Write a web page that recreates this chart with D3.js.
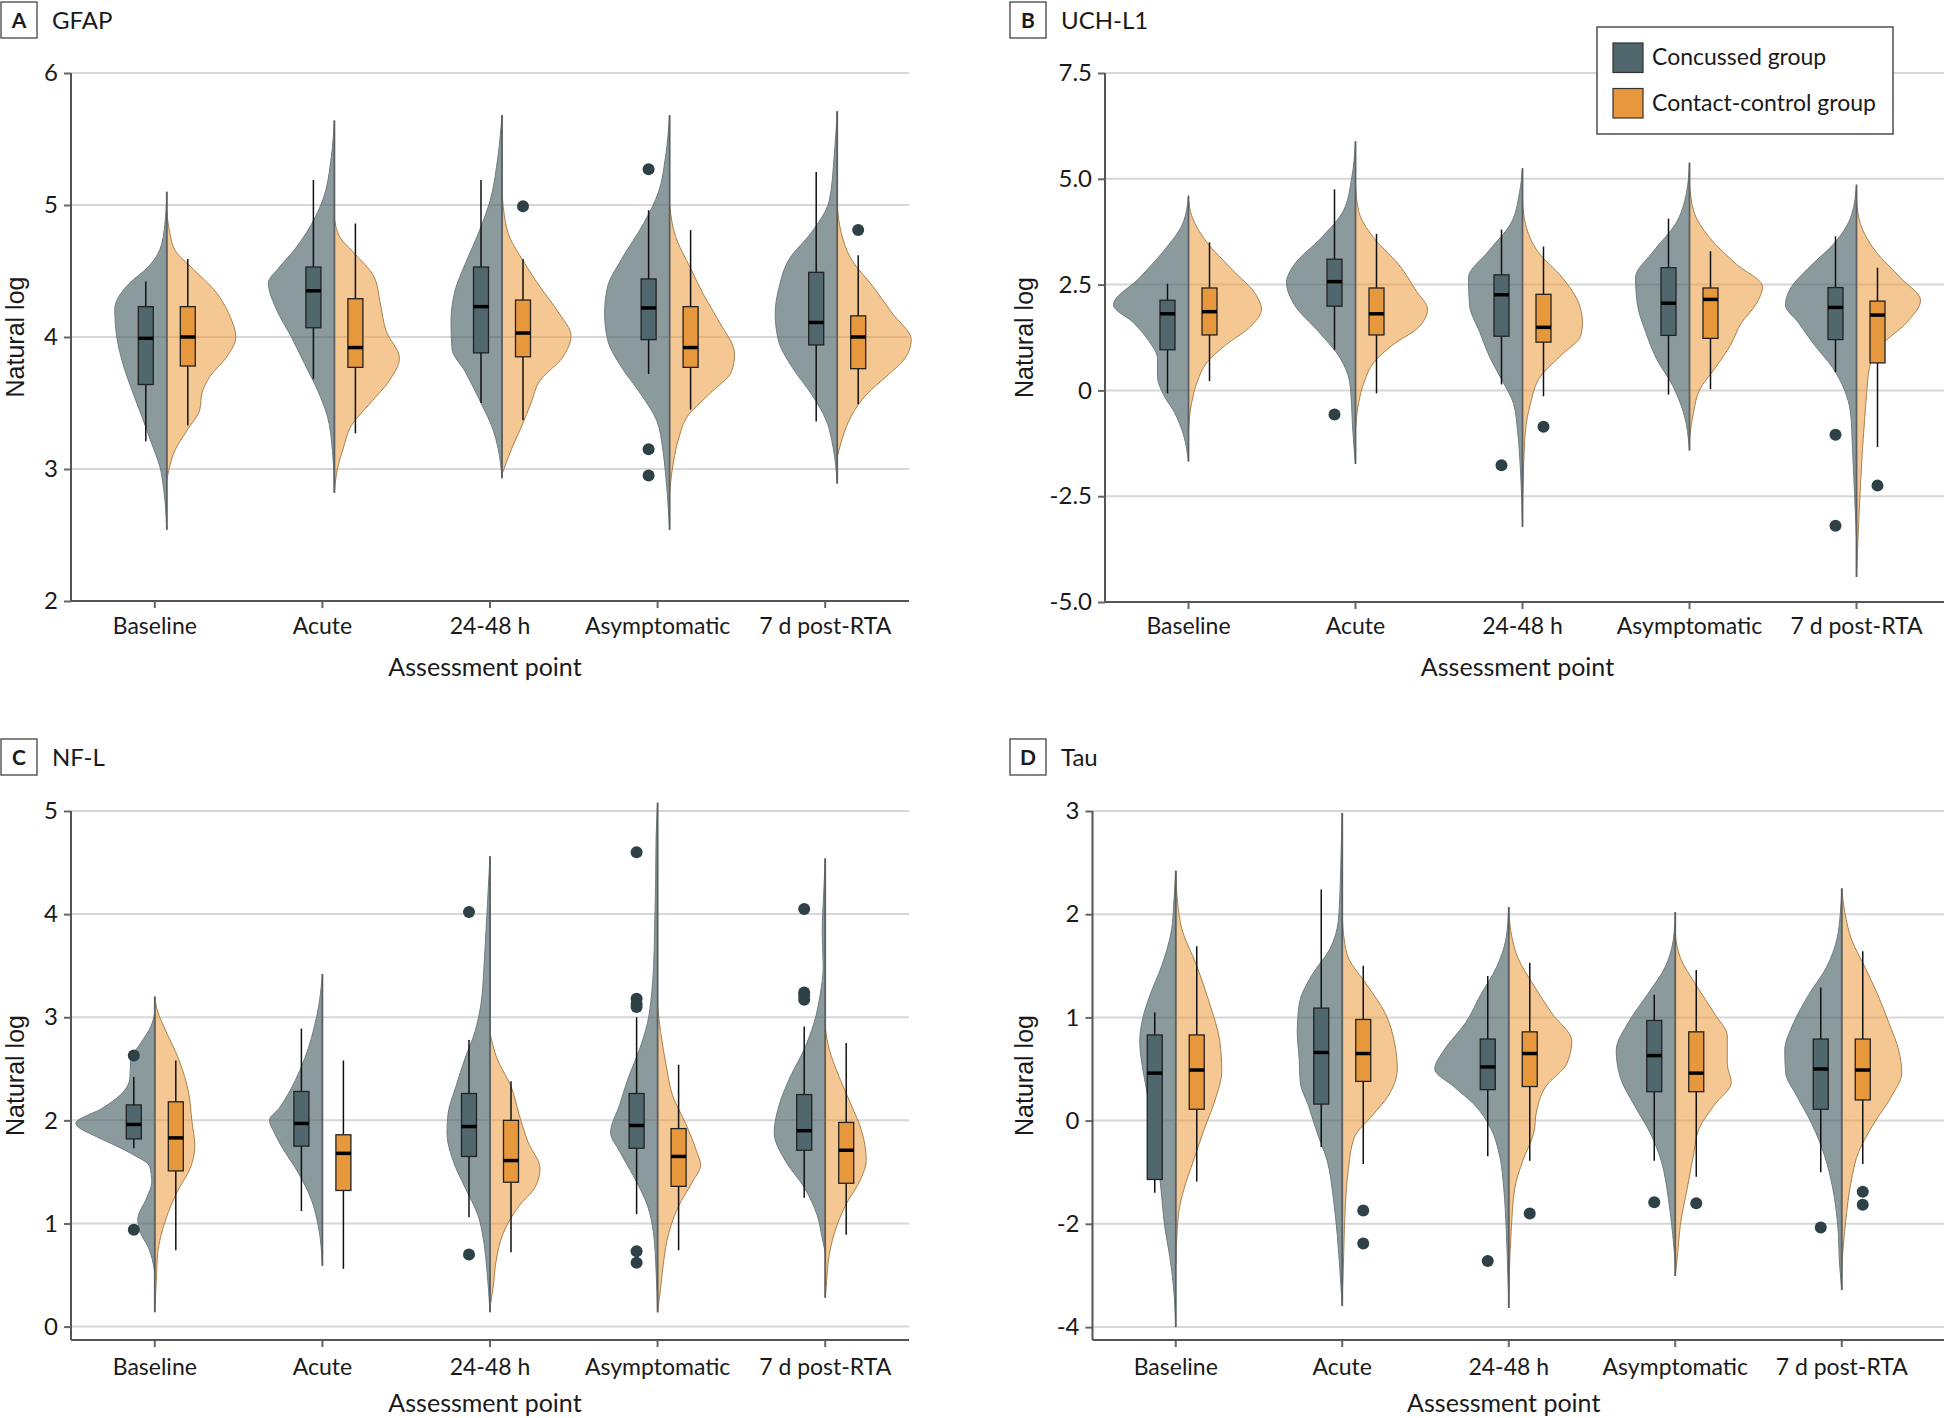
<!DOCTYPE html>
<html>
<head>
<meta charset="utf-8">
<script src="https://cdn.jsdelivr.net/npm/d3@7"></script>
<style>
  body { margin: 0; background: #fff; }
  text { font-family: Lato, "Open Sans", sans-serif; fill: #1a1a1a; }
</style>
</head>
<body>
<script>
var categories = ["Baseline", "Acute", "24-48 h", "Asymptomatic", "7 d post-RTA"];

// box stats per assessment point: [lower whisker, q1, median, q3, upper whisker]
// violin profiles: [value, relative density]
// GFAP
var gfapTicks = [2, 3, 4, 5, 6];
var gfapConcBox = [[3.21, 3.64, 3.99, 4.23, 4.42], [3.68, 4.07, 4.35, 4.53, 5.19], [3.50, 3.88, 4.23, 4.53, 5.19], [3.72, 3.98, 4.22, 4.44, 4.96], [3.36, 3.94, 4.11, 4.49, 5.25]];
var gfapCtrlBox = [[3.33, 3.78, 4.00, 4.23, 4.59], [3.27, 3.77, 3.92, 4.29, 4.86], [3.37, 3.85, 4.03, 4.28, 4.59], [3.45, 3.77, 3.92, 4.23, 4.81], [3.49, 3.76, 4.00, 4.16, 4.62]];
var gfapConcOut = [[], [], [], [5.27, 3.15, 2.95], []];
var gfapCtrlOut = [[], [], [4.99], [], [4.81]];
var gfapConcViolin = [
  [[5.10,0],[4.85,2],[4.66,7],[4.52,20],[4.41,37],[4.21,52],[4.0,50],[3.80,44],[3.60,35],[3.40,25],[3.19,15],[3.02,7],[2.84,3],[2.54,0]],
  [[5.64,0],[5.37,3],[5.03,12],[4.79,28],[4.66,40],[4.52,56],[4.41,66],[4.21,58],[4.0,43],[3.80,30],[3.60,17],[3.40,7],[3.14,2],[2.82,0]],
  [[5.68,0],[5.37,4],[5.03,12],[4.76,25],[4.55,37],[4.35,47],[4.11,51],[3.91,50],[3.74,37],[3.5,21],[3.3,9],[3.16,4],[2.93,0]],
  [[5.68,0],[5.37,4],[5.1,11],[4.86,26],[4.59,48],[4.38,62],[4.18,65],[3.98,62],[3.77,48],[3.57,29],[3.37,13],[3.16,7],[2.96,4],[2.54,0]],
  [[5.71,0],[5.37,3],[5.03,8],[4.79,26],[4.59,48],[4.38,58],[4.18,62],[3.98,59],[3.77,45],[3.57,26],[3.37,11],[3.16,4],[2.89,0]]
];
var gfapCtrlViolin = [
  [[4.95,0],[4.79,3],[4.66,8],[4.51,27],[4.36,47],[4.16,63],[4.0,69],[3.85,60],[3.70,43],[3.57,35],[3.45,33],[3.29,20],[3.14,8],[2.99,2],[2.92,0]],
  [[4.90,0],[4.75,6],[4.65,18],[4.45,40],[4.25,46],[4.04,52],[3.84,65],[3.67,55],[3.50,36],[3.33,17],[3.16,9],[3.0,3],[2.82,0]],
  [[5.10,0],[4.79,6],[4.59,20],[4.38,38],[4.18,57],[4.01,69],[3.84,60],[3.67,38],[3.5,29],[3.33,20],[3.16,10],[2.96,0]],
  [[5.0,0],[4.76,6],[4.52,21],[4.32,34],[4.11,50],[3.87,65],[3.74,62],[3.57,40],[3.4,18],[3.23,9],[3.06,4],[2.82,0]],
  [[5.0,0],[4.79,4],[4.59,14],[4.38,36],[4.18,55],[3.98,74],[3.84,68],[3.7,49],[3.57,30],[3.4,14],[3.23,5],[3.09,0]]
];

// UCH-L1
var uchTicks = [-5, -2.5, 0, 2.5, 5, 7.5];
var uchTickLabels = ["-5.0", "-2.5", "0", "2.5", "5.0", "7.5"];
var uchConcBox = [[-0.07, 0.96, 1.81, 2.13, 2.52], [0.96, 1.99, 2.57, 3.10, 4.75], [0.14, 1.28, 2.26, 2.73, 3.80], [-0.10, 1.30, 2.06, 2.90, 4.06], [0.43, 1.20, 1.96, 2.43, 3.64]];
var uchCtrlBox = [[0.22, 1.31, 1.86, 2.42, 3.50], [-0.07, 1.31, 1.81, 2.42, 3.70], [-0.14, 1.14, 1.49, 2.27, 3.40], [0.03, 1.23, 2.15, 2.42, 3.29], [-1.34, 0.65, 1.78, 2.11, 2.90]];
var uchConcOut = [[], [-0.57], [-1.77], [], [-1.05, -3.2]];
var uchCtrlOut = [[], [], [-0.86], [], [-2.25]];
var uchConcViolin = [
  [[4.60,0],[3.93,6],[3.29,25],[2.66,49],[2.02,75],[1.60,55],[1.18,40],[0.75,31],[0.33,31],[-0.1,25],[-0.52,14],[-1.05,5],[-1.68,0]],
  [[5.89,0],[4.99,4],[4.25,12],[3.61,34],[2.98,61],[2.55,69],[2.02,61],[1.39,37],[0.75,15],[0.22,6],[-0.31,4],[-0.84,3],[-1.74,0]],
  [[5.25,0],[4.67,3],[3.93,12],[3.29,34],[2.66,54],[2.02,53],[1.39,43],[0.75,32],[0.22,20],[-0.31,9],[-0.94,5],[-1.9,2],[-3.22,0]],
  [[5.38,0],[4.67,3],[3.93,14],[3.29,36],[2.66,54],[2.02,52],[1.39,44],[0.75,33],[0.12,17],[-0.52,6],[-1.42,0]],
  [[4.86,0],[4.14,5],[3.51,21],[2.87,49],[2.45,65],[2.02,71],[1.60,58],[1.07,42],[0.54,24],[0.01,12],[-0.52,6],[-1.37,4],[-2.43,2],[-3.49,0]]
];
var uchCtrlViolin = [
  [[4.50,0],[4.14,3],[3.51,18],[2.87,43],[2.24,68],[1.92,73],[1.49,61],[1.07,37],[0.65,18],[0.22,9],[-0.31,3],[-0.94,0]],
  [[4.88,0],[4.25,3],[3.61,18],[2.98,43],[2.34,61],[1.92,72],[1.49,63],[1.07,37],[0.65,18],[0.22,9],[-0.31,3],[-0.94,0]],
  [[4.50,0],[3.93,3],[3.29,15],[2.66,40],[2.13,55],[1.60,60],[1.28,58],[0.86,40],[0.33,18],[-0.31,8],[-0.94,3],[-1.9,1],[-2.64,0]],
  [[4.90,0],[4.25,4],[3.61,20],[2.98,47],[2.45,73],[2.02,66],[1.60,52],[1.07,41],[0.54,26],[0.01,10],[-0.52,4],[-1.15,0]],
  [[4.50,0],[3.93,4],[3.29,19],[2.66,44],[2.13,64],[1.60,50],[1.07,25],[0.54,13],[-0.1,10],[-0.73,8],[-1.37,6],[-2.22,4],[-2.96,2.5],[-3.49,1.5],[-4.41,0]]
];

// NF-L
var nflTicks = [0, 1, 2, 3, 4, 5];
var nflConcBox = [[1.73, 1.82, 1.96, 2.15, 2.42], [1.12, 1.75, 1.97, 2.28, 2.89], [1.06, 1.65, 1.94, 2.26, 2.78], [1.09, 1.73, 1.95, 2.26, 3.00], [1.25, 1.71, 1.90, 2.25, 2.91]];
var nflCtrlBox = [[0.74, 1.51, 1.83, 2.18, 2.58], [0.56, 1.32, 1.68, 1.86, 2.58], [0.72, 1.40, 1.61, 2.00, 2.38], [0.74, 1.36, 1.65, 1.92, 2.54], [0.89, 1.39, 1.71, 1.98, 2.75]];
var nflConcOut = [[2.63, 0.94], [], [4.02, 0.70], [4.60, 3.18, 3.13, 3.10, 0.73, 0.62], [4.05, 3.24, 3.21, 3.17]];
var nflCtrlOut = [[], [], [], [], []];
var nflConcViolin = [
  [[3.04,0],[2.91,4],[2.75,14],[2.59,24],[2.40,25],[2.25,34],[2.12,52],[1.97,79],[1.84,58],[1.75,38],[1.68,24],[1.55,5],[1.40,3],[1.25,8],[1.04,17],[0.90,14],[0.78,7],[0.52,0]],
  [[3.42,0],[3.15,3],[2.91,8],[2.70,14],[2.52,21],[2.26,34],[2.12,43],[2.0,53],[1.88,48],[1.75,41],[1.49,24],[1.23,11],[0.97,4],[0.59,0]],
  [[4.56,0],[4.20,2],[3.84,4],[3.49,6],[3.13,9],[2.86,15],[2.60,25],[2.33,34],[2.06,42],[1.88,43],[1.61,37],[1.35,25],[1.08,12],[0.81,6],[0.54,3],[0.14,0]],
  [[5.08,0],[4.74,1.5],[4.29,2],[3.84,3],[3.49,4],[3.22,6],[2.95,10],[2.69,18],[2.42,29],[2.15,38],[1.88,47],[1.70,38],[1.44,23],[1.17,10],[0.90,4],[0.54,1.5],[0.14,0]],
  [[4.54,0],[4.20,1.5],[3.84,3],[3.49,2],[3.22,5],[2.95,11],[2.69,21],[2.42,35],[2.15,46],[1.88,51],[1.61,40],[1.35,21],[1.08,8],[0.86,3],[0.72,0]]
];
var nflCtrlViolin = [
  [[3.20,0],[3.05,3],[2.91,9],[2.59,24],[2.26,34],[2.0,37],[1.75,40],[1.55,36],[1.30,22],[1.04,11],[0.72,3],[0.45,1.5],[0.14,0]],
  null,
  [[2.85,0],[2.60,7],[2.33,21],[2.06,29],[1.79,38],[1.53,50],[1.35,45],[1.17,29],[0.90,13],[0.63,6],[0.37,3],[0.19,0]],
  [[3.10,0],[2.86,3],[2.51,9],[2.24,15],[1.97,28],[1.70,39],[1.57,43],[1.39,34],[1.17,21],[0.90,11],[0.63,6],[0.37,3],[0.14,0]],
  [[2.90,0],[2.69,4],[2.42,14],[2.15,26],[1.88,37],[1.61,41],[1.44,36],[1.17,20],[0.90,9],[0.63,3],[0.45,1.5],[0.28,0]]
];

// Tau
var tauTicks = [-4, -2, 0, 1, 2, 3];
var tauConcBox = [[-1.40, -1.14, 0.46, 0.83, 1.05], [-0.51, 0.16, 0.66, 1.09, 2.24], [-0.69, 0.30, 0.52, 0.79, 1.40], [-0.78, 0.28, 0.63, 0.97, 1.22], [-1.0, 0.11, 0.50, 0.79, 1.29]];
var tauCtrlBox = [[-1.18, 0.11, 0.49, 0.83, 1.69], [-0.84, 0.38, 0.65, 0.98, 1.50], [-0.78, 0.33, 0.65, 0.86, 1.53], [-1.09, 0.28, 0.46, 0.86, 1.46], [-0.84, 0.20, 0.49, 0.79, 1.64]];
var tauConcOut = [[], [], [-2.72], [-1.58], [-2.07]];
var tauCtrlOut = [[], [-1.74, -2.38], [-1.80], [-1.60], [-1.38, -1.63]];
var tauConcViolin = [
  [[2.42,0],[2.10,2],[1.86,4],[1.50,14],[1.21,26],[0.99,33],[0.77,36],[0.56,34],[0.34,30],[0.12,26],[-0.33,21],[-0.91,17],[-1.48,14],[-2.06,11],[-2.63,6],[-3.21,2.3],[-4.0,0]],
  [[2.98,0],[2.65,1],[2.29,2],[1.93,4],[1.67,12],[1.40,31],[1.13,43],[0.86,45],[0.59,43],[0.37,42],[0.15,34],[-0.24,25],[-0.78,15],[-1.49,9],[-2.21,5],[-3.01,2],[-3.59,0]],
  [[2.07,0],[1.75,3],[1.49,12],[1.22,28],[0.95,43],[0.68,65],[0.50,74],[0.33,55],[0.15,34],[-0.15,18],[-0.69,9],[-1.31,5],[-2.12,2.5],[-2.92,1],[-3.46,0]],
  [[2.02,0],[1.75,2],[1.49,10],[1.22,28],[0.95,47],[0.68,59],[0.42,55],[0.15,41],[-0.24,25],[-0.78,14],[-1.49,7],[-2.21,2.5],[-2.74,0]],
  [[2.25,0],[2.0,1.5],[1.75,5],[1.49,15],[1.22,33],[0.95,48],[0.68,57],[0.46,56],[0.24,45],[-0.06,30],[-0.69,17],[-1.31,9],[-2.03,4],[-2.83,2],[-3.28,0]]
];
var tauCtrlViolin = [
  [[2.42,0],[2.10,2],[1.86,6],[1.50,21],[1.13,34],[0.77,44],[0.48,46],[0.19,39],[-0.19,28],[-0.76,18],[-1.34,8],[-1.77,3],[-2.42,0.7],[-2.78,0]],
  [[2.0,0],[1.75,2],[1.58,6],[1.31,25],[1.04,43],[0.77,52],[0.50,55],[0.24,46],[0.06,31],[-0.33,12],[-0.96,6],[-1.67,3],[-2.56,1.5],[-3.46,0]],
  [[2.04,0],[1.84,2],[1.58,9],[1.31,25],[1.04,43],[0.77,63],[0.55,58],[0.33,37],[0.10,28],[-0.24,25],[-0.78,14],[-1.31,6],[-2.12,2.5],[-3.01,0.5],[-3.63,0]],
  [[1.80,0],[1.58,5],[1.31,21],[1.04,39],[0.82,52],[0.55,52],[0.37,56],[0.15,39],[-0.15,24],[-0.69,18],[-1.31,12],[-2.03,5],[-2.56,2.5],[-3.01,0]],
  [[2.25,0],[2.02,3],[1.75,10],[1.49,23],[1.22,36],[0.95,47],[0.68,57],[0.46,60],[0.24,50],[-0.06,32],[-0.60,17],[-1.22,9],[-1.94,4],[-2.56,1],[-2.83,0]]
];

var groups = ["Concussed group", "Contact-control group"];

var concFill = "#4d6469", ctrlFill = "#ec9b3b";
var concBoxFill = "#50686d", ctrlBoxFill = "#e8983c";

var svg = d3.select("body").append("svg")
    .attr("width", 1944)
    .attr("height", 1418);

// violin half-width in px per unit of relative density
var wScale = d3.scaleLinear().domain([0, 80]).range([0, 80]);

var panels = [
  { letter: "A", title: "GFAP", left: 71, right: 909, gridRight: 909, shift: 12,
    y: d3.scaleLinear().domain([2, 6]).range([601, 73]), axisY: 601,
    ticks: gfapTicks, labels: gfapTicks.map(String), labelX: 24, titleY: 2,
    conc: gfapConcBox, ctrl: gfapCtrlBox, concOut: gfapConcOut, ctrlOut: gfapCtrlOut,
    concV: gfapConcViolin, ctrlV: gfapCtrlViolin, catY: 634, xlabY: 676 },
  { letter: "B", title: "UCH-L1", left: 1105, right: 1940, gridRight: 1944, shift: 0,
    y: d3.scaleLinear().domain([-5, 7.5]).range([602, 73]), axisY: 602,
    ticks: uchTicks, labels: uchTickLabels, labelX: 1033, titleY: 2,
    conc: uchConcBox, ctrl: uchCtrlBox, concOut: uchConcOut, ctrlOut: uchCtrlOut,
    concV: uchConcViolin, ctrlV: uchCtrlViolin, catY: 634, xlabY: 676 },
  { letter: "C", title: "NF-L", left: 71, right: 909, gridRight: 909, shift: 0,
    y: d3.scaleLinear().domain([-0.13, 5]).range([1340, 811]), axisY: 1340,
    ticks: nflTicks, labels: nflTicks.map(String), labelX: 24, titleY: 739,
    conc: nflConcBox, ctrl: nflCtrlBox, concOut: nflConcOut, ctrlOut: nflCtrlOut,
    concV: nflConcViolin, ctrlV: nflCtrlViolin, catY: 1375, xlabY: 1412 },
  { letter: "D", title: "Tau", left: 1092.5, right: 1925, gridRight: 1944, shift: 0,
    y: d3.scaleLinear().domain([-4.25, 0, 3]).range([1340, 1120.6, 811]), axisY: 1340,
    ticks: tauTicks, labels: tauTicks.map(String), labelX: 1033, titleY: 739,
    conc: tauConcBox, ctrl: tauCtrlBox, concOut: tauConcOut, ctrlOut: tauCtrlOut,
    concV: tauConcViolin, ctrlV: tauCtrlViolin, catY: 1375, xlabY: 1412 }
];

panels.forEach(drawPanel);

function drawPanel(p) {
  var g = svg.append("g");
  var x = d3.scaleBand().domain(categories).range([p.left, p.right]);
  var y = p.y;
  var yTop = y(d3.max(p.ticks));

  // title
  var tx = p.left < 500 ? 1 : 1010;
  g.append("rect").attr("x", tx).attr("y", p.titleY).attr("width", 36).attr("height", 36)
    .attr("fill", "#fff").attr("stroke", "#444").attr("stroke-width", 1.3);
  g.append("text").attr("x", tx + 18).attr("y", p.titleY + 26).attr("text-anchor", "middle")
    .style("font-size", "21px").style("font-weight", "bold").text(p.letter);
  g.append("text").attr("x", tx + 51).attr("y", p.titleY + 27)
    .style("font-size", "24px").text(p.title);

  // grid
  g.selectAll(".grid").data(p.ticks).join("line")
    .attr("x1", p.left).attr("x2", p.gridRight)
    .attr("y1", d => y(d)).attr("y2", d => y(d))
    .attr("stroke", "#d7d7d7").attr("stroke-width", 2);

  // violins
  categories.forEach(function (c, i) {
    var cx = x(c) + x.bandwidth() / 2 + p.shift;
    var ends = [];
    [[p.concV[i], -1, concFill, 0.65, "#6f7c7f"], [p.ctrlV[i], 1, ctrlFill, 0.55, "#a8804f"]].forEach(function (v) {
      if (!v[0]) return;
      ends.push(v[0][0][0], v[0][v[0].length - 1][0]);
      var area = d3.area().curve(d3.curveMonotoneY)
        .y(d => y(d[0]))
        .x0(cx)
        .x1(d => cx + v[1] * wScale(d[1]));
      g.append("path").attr("d", area(v[0]))
        .attr("fill", v[2]).attr("fill-opacity", v[3])
        .attr("stroke", v[4]).attr("stroke-width", 1);
    });
    // shared split line
    g.append("line").attr("x1", cx).attr("x2", cx)
      .attr("y1", y(d3.max(ends))).attr("y2", y(d3.min(ends)))
      .attr("stroke", "#5c6062").attr("stroke-width", 1.8);
  });

  // boxes
  categories.forEach(function (c, i) {
    var cx = x(c) + x.bandwidth() / 2 + p.shift;
    [[p.conc[i], p.concOut[i], -1, concBoxFill], [p.ctrl[i], p.ctrlOut[i], 1, ctrlBoxFill]].forEach(function (b) {
      var s = b[0], bx = cx + b[2] * 21;
      g.append("line").attr("x1", bx).attr("x2", bx).attr("y1", y(s[4])).attr("y2", y(s[3]))
        .attr("stroke", "#111").attr("stroke-width", 1.5);
      g.append("line").attr("x1", bx).attr("x2", bx).attr("y1", y(s[1])).attr("y2", y(s[0]))
        .attr("stroke", "#111").attr("stroke-width", 1.5);
      g.append("rect").attr("x", bx - 7.5).attr("width", 15)
        .attr("y", y(s[3])).attr("height", y(s[1]) - y(s[3]))
        .attr("fill", b[3]).attr("stroke", "#222").attr("stroke-width", 1.3);
      g.append("line").attr("x1", bx - 7.5).attr("x2", bx + 7.5).attr("y1", y(s[2])).attr("y2", y(s[2]))
        .attr("stroke", "#000").attr("stroke-width", 3.5);
      g.selectAll(null).data(b[1]).join("circle")
        .attr("cx", bx).attr("cy", d => y(d)).attr("r", 6)
        .attr("fill", "#2e4146");
    });
  });

  // y axis
  var yAxis = d3.axisLeft(y).tickValues(p.ticks).tickSize(7).tickSizeOuter(0)
    .tickFormat((d, i) => p.labels[i]);
  var ya = g.append("g").attr("transform", "translate(" + p.left + ",0)").call(yAxis);
  ya.select(".domain").remove();
  ya.selectAll(".tick line").attr("stroke", "#666").attr("stroke-width", 2);
  ya.selectAll(".tick text").attr("x", -13).style("font-size", "24px")
    .style("font-family", "Lato, sans-serif").attr("fill", "#1a1a1a");
  g.append("line").attr("x1", p.left).attr("x2", p.left).attr("y1", yTop).attr("y2", p.axisY)
    .attr("stroke", "#555").attr("stroke-width", 2);

  // x axis
  var xAxis = d3.axisBottom(x).tickSize(7).tickSizeOuter(0);
  var xa = g.append("g").attr("transform", "translate(0," + p.axisY + ")").call(xAxis);
  xa.select(".domain").remove();
  xa.selectAll(".tick line").attr("stroke", "#666").attr("stroke-width", 2);
  xa.selectAll(".tick text").attr("y", 0).attr("dy", null)
    .attr("transform", "translate(0," + (p.catY - p.axisY) + ")")
    .style("font-size", "23px").style("font-family", "Lato, sans-serif").attr("fill", "#1a1a1a");
  g.append("line").attr("x1", p.left).attr("x2", p.gridRight).attr("y1", p.axisY).attr("y2", p.axisY)
    .attr("stroke", "#555").attr("stroke-width", 2);

  g.append("text").attr("x", (p.left + p.right) / 2 - 5).attr("y", p.xlabY)
    .attr("text-anchor", "middle").style("font-size", "25px").text("Assessment point");

  g.append("text")
    .attr("transform", "translate(" + p.labelX + "," + ((yTop + p.axisY) / 2) + ") rotate(-90)")
    .attr("text-anchor", "middle")
    .style("font-family", "'Liberation Sans', Arial, sans-serif").style("font-size", "25px")
    .text("Natural log");
}

// legend
var leg = svg.append("g");
leg.append("rect").attr("x", 1597).attr("y", 27).attr("width", 296).attr("height", 107)
  .attr("fill", "#fff").attr("stroke", "#333").attr("stroke-width", 1.3);
groups.forEach(function (gname, i) {
  leg.append("rect").attr("x", 1613).attr("y", 43 + i * 45.5).attr("width", 30).attr("height", 29.5)
    .attr("fill", i === 0 ? concBoxFill : ctrlBoxFill).attr("stroke", "#333").attr("stroke-width", 1.2);
  leg.append("text").attr("x", 1652).attr("y", 65 + i * 45.5)
    .style("font-size", "23px").text(gname);
});
</script>
</body>
</html>
